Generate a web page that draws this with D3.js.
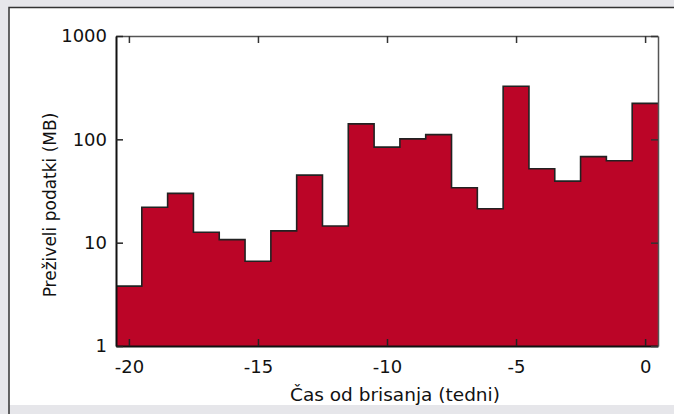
<!DOCTYPE html>
<html>
<head>
<meta charset="utf-8">
<script src="https://cdn.jsdelivr.net/npm/d3@7"></script>
<style>
  body { margin: 0; background: #e6e6ea; }
  svg { display: block; }
  text { font-family: "DejaVu Sans", "Open Sans", sans-serif; fill: #111; }
</style>
</head>
<body>
<script>
// weeks before deletion (bin centres) and surviving data per week (MB)
var weeks = [-20, -19, -18, -17, -16, -15, -14, -13, -12, -11, -10,
             -9, -8, -7, -6, -5, -4, -3, -2, -1, 0];
var survived = [3.8, 22, 30, 12.6, 10.7, 6.6, 13, 45, 14.5, 141, 84,
                101, 111, 34, 21.3, 326, 52, 39.4, 68, 62, 223];
var xTicks = [-20, -15, -10, -5, 0];
var yTicks = [1, 10, 100, 1000];

var W = 674, H = 414;
var margin = {top: 36, right: 16, bottom: 68, left: 116},
    width = W - margin.left - margin.right,
    height = H - margin.top - margin.bottom;

var svg = d3.select("body").append("svg")
    .attr("width", W)
    .attr("height", H);

// white panel with dark border on top and left
svg.append("rect")
    .attr("x", 9).attr("y", 7)
    .attr("width", W - 9).attr("height", 398)
    .style("fill", "#fff");
svg.append("path")
    .attr("d", "M9," + H + "V7.5H" + W)
    .style("fill", "none")
    .style("stroke", "#333")
    .style("stroke-width", 1.5);

var g = svg.append("g")
    .attr("transform", "translate(" + margin.left + "," + margin.top + ")");

var x = d3.scaleLinear().domain([-20.5, 0.5]).range([0, width]);
var y = d3.scaleLog().domain([1, 1000]).range([height, 0]);

// step outline of the histogram
var pts = [];
weeks.forEach(function(w, i) {
    pts.push([w - 0.5, survived[i]]);
    pts.push([w + 0.5, survived[i]]);
});

var area = d3.area()
    .x(function(d) { return x(d[0]); })
    .y0(height)
    .y1(function(d) { return y(d[1]); });
var line = d3.line()
    .x(function(d) { return x(d[0]); })
    .y(function(d) { return y(d[1]); });

g.append("path")
    .datum(pts)
    .attr("d", area)
    .style("fill", "#bb0527");
g.append("path")
    .datum(pts)
    .attr("d", line)
    .style("fill", "none")
    .style("stroke", "#222")
    .style("stroke-width", 1.6);

var plain = function(d) { return String(d); };

// axes with inward ticks on all four sides
var axBottom = g.append("g")
    .attr("transform", "translate(0," + height + ")")
    .call(d3.axisBottom(x).tickValues(xTicks).tickSizeInner(-7).tickSizeOuter(0)
        .tickFormat(plain).tickPadding(14));
var axTop = g.append("g")
    .call(d3.axisTop(x).tickValues(xTicks).tickSizeInner(-7).tickSizeOuter(0).tickFormat(""));
var axLeft = g.append("g")
    .call(d3.axisLeft(y).tickValues(yTicks).tickSizeInner(-7).tickSizeOuter(0)
        .tickFormat(plain).tickPadding(9));
var axRight = g.append("g")
    .attr("transform", "translate(" + width + ",0)")
    .call(d3.axisRight(y).tickValues(yTicks).tickSizeInner(-7).tickSizeOuter(0).tickFormat(""));

[axBottom, axLeft].forEach(function(a) {
    a.select(".domain").style("stroke", "#111").style("stroke-width", 2);
    a.selectAll(".tick line").style("stroke", "#222").style("stroke-width", 1.5);
    a.selectAll("text").style("font-size", "18px").style("font-family", null);
});
[axTop, axRight].forEach(function(a) {
    a.select(".domain").style("stroke", "#555").style("stroke-width", 1.5);
    a.selectAll(".tick line").style("stroke", "#333").style("stroke-width", 1.5);
});
// d3 axis sets font-family on the group; let the stylesheet win
[axBottom, axLeft, axTop, axRight].forEach(function(a) { a.attr("font-family", null); });

svg.append("text")
    .attr("x", 395)
    .attr("y", 401)
    .attr("text-anchor", "middle")
    .style("font-size", "18.5px")
    .text("Čas od brisanja (tedni)");

svg.append("text")
    .attr("transform", "translate(56,205) rotate(-90)")
    .attr("text-anchor", "middle")
    .style("font-size", "17px")
    .text("Preživeli podatki (MB)");
</script>
</body>
</html>
